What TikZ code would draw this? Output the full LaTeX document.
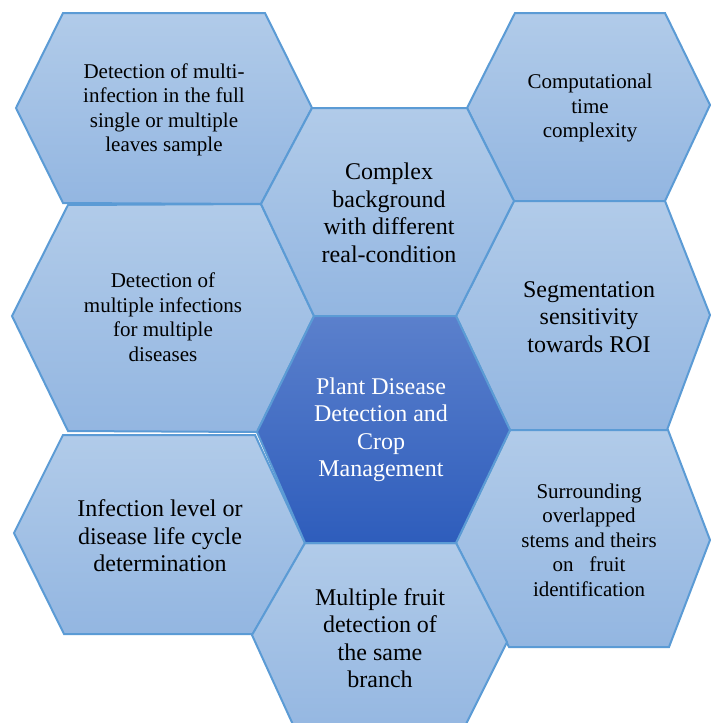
\documentclass[tikz,border=0pt]{standalone}
\usepackage{fontspec}
\setmainfont{Liberation Serif}
\newfontfamily\cellfont{Liberation Serif}
\definecolor{hexline}{HTML}{5B9BD5}
\definecolor{cellTop}{HTML}{B1CBE9}
\definecolor{cellBot}{HTML}{93B6E1}
\definecolor{coreTop}{HTML}{5B80CC}
\definecolor{coreBot}{HTML}{2E5DBC}
\tikzset{
  hexcell/.style={draw=hexline, line width=2pt, line join=miter, top color=cellTop, bottom color=cellBot},
  corecell/.style={draw=hexline, line width=2pt, line join=miter, top color=coreTop, bottom color=coreBot},
  smalltext/.style={align=center, inner sep=0pt, text=black, font=\cellfont\fontsize{21}{24.5}\selectfont},
  bigtext/.style={align=center, inner sep=0pt, text=black, font=\cellfont\fontsize{24}{27.5}\selectfont},
  coretext/.style={bigtext, text=white}
}
\begin{document}
\begin{tikzpicture}[x=1pt,y=-1pt]
\useasboundingbox (0,0) rectangle (711,723);
\clip (0,0) rectangle (711,723);
\fill[white] (0,0) rectangle (711,723);

% corners shared by neighbouring cells
\coordinate (vA) at (312,108);
\coordinate (vB) at (467,108);
\coordinate (vC) at (514,201);
\coordinate (vD) at (261,204);
\coordinate (vE) at (314,316);
\coordinate (vF) at (456,316);
\coordinate (vG) at (510,430);
\coordinate (vH) at (257,432);
\coordinate (vI) at (305,543);
\coordinate (vJ) at (456,543);

% outer ring of cells
\path[hexcell] (16,108) -- (63,13) -- (265,13) -- (vA) -- (vD) -- (63,203) -- cycle;
\path[hexcell] (12,316) -- (68,205) -- (vD) -- (vE) -- (vH) -- (68,431) -- cycle;
\path[hexcell] (14,533) -- (63,435) -- (255,435) -- (vI) -- (253,634) -- (64,634) -- cycle;
\path[hexcell] (vB) -- (515,13) -- (665,13) -- (710,105) -- (665,201) -- (vC) -- cycle;
\path[hexcell] (vF) -- (vC) -- (665,201) -- (710,315) -- (667,430) -- (vG) -- cycle;
\path[hexcell] (vJ) -- (vG) -- (668,430) -- (710,540) -- (669,647) -- (509,647) -- cycle;
\path[hexcell] (vD) -- (vA) -- (vB) -- (vC) -- (vF) -- (vE) -- cycle;
\path[hexcell] (252,635) -- (vI) -- (vJ) -- (507,642) -- (458,740) -- (300,740) -- cycle;

% central cell
\path[corecell] (vH) -- (vE) -- (vF) -- (vG) -- (vJ) -- (vI) -- cycle;

% labels
\node[smalltext] (multiinf) at (164,110) {Detection of multi-\\infection in the full\\single or multiple\\leaves sample};
\node[smalltext] (multidis) at (163,317) {Detection of\\multiple infections\\for multiple\\diseases};
\node[bigtext] (lifecycle) at (160,536) {Infection level or\\disease life cycle\\determination};
\node[bigtext] (background) at (389,213) {Complex\\background\\with different\\real-condition};
\node[smalltext] (comptime) at (590,108) {Computational\\time\\complexity};
\node[bigtext] (segment) at (589,317) {Segmentation\\sensitivity\\towards ROI};
\node[smalltext] (stems) at (589,540) {Surrounding\\overlapped\\stems and theirs\\on\ \ \ fruit\\identification};
\node[bigtext] (fruit) at (380,638) {Multiple fruit\\detection of\\the same\\branch};
\node[coretext] (core) at (381,430) {Plant Disease\\Detection and\\Crop\\Management};
\end{tikzpicture}
\end{document}
